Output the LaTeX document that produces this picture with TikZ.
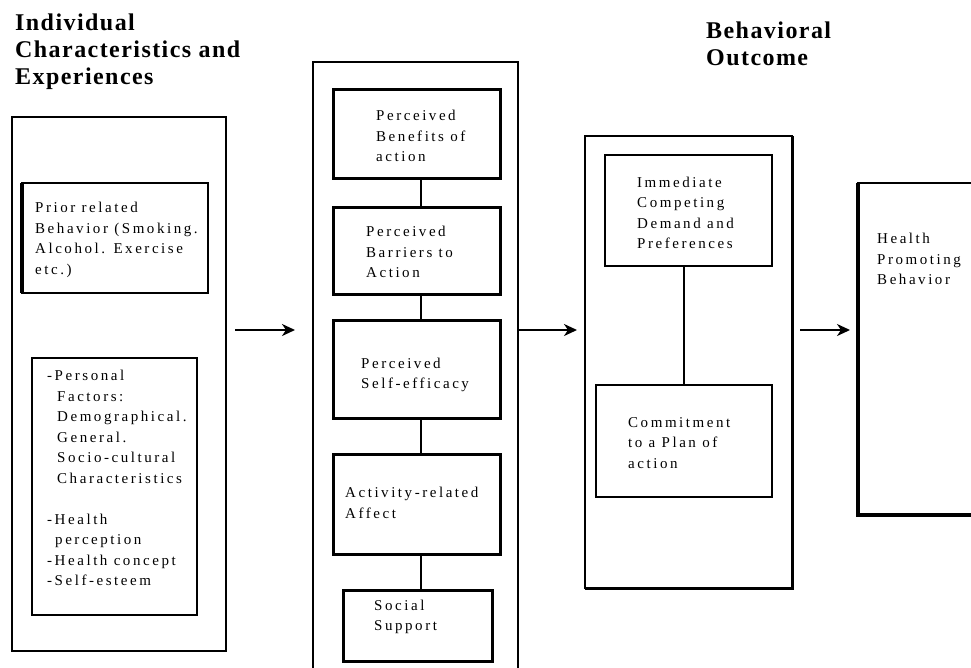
\documentclass[tikz,border=0pt]{standalone}
\usepackage{fontspec}
\setmainfont{Liberation Serif}
\newfontfamily\boxfont[LetterSpace=17]{Liberation Serif}
\newfontfamily\headfont[LetterSpace=6]{Liberation Serif}
\usetikzlibrary{arrows.meta}
\tikzset{
  box/.style={draw, rectangle, anchor=north west, inner sep=0pt, outer sep=0pt},
  outerbox/.style={box, line width=1.8pt},
  midbox/.style={box, line width=3pt},
  leftbox/.style={box, line width=2.4pt},
  rbox/.style={box, line width=2.2pt},
  txt/.style={anchor=west, align=left, inner sep=0pt, font=\boxfont\fontsize{15}{20.5}\selectfont},
  head/.style={anchor=west, align=left, inner sep=0pt, font=\headfont\bfseries\fontsize{24}{27}\selectfont},
  link/.style={line width=2.4pt},
  arr/.style={line width=2.2pt, -{Stealth[length=13pt, width=12pt, inset=4pt]}}
}
\begin{document}
\begin{tikzpicture}[x=1pt, y=-1pt]
\useasboundingbox (0,0) rectangle (971,667);
% titles
\node[head] (t1) at (15,52) {Individual\\Characteristics and\\Experiences};
\node[head] (t2) at (706,44) {Behavioral\\Outcome};
% left column
\node[outerbox, minimum width=214pt, minimum height=534pt] (L) at (12,117) {};
\node[leftbox, minimum width=186pt, minimum height=110pt] (prior) at (22,183) {};
\draw[line width=4pt] (prior.north west) -- (prior.south west);
\node[leftbox, minimum width=165pt, minimum height=257pt] (pers) at (32,358) {};
\node[txt] (priort) at (35,240) {Prior related\\Behavior (Smoking.\\Alcohol. Exercise\\etc.)};
\node[txt] (perst) at (47,478) {-Personal\\\hspace*{10pt}Factors:\\\hspace*{10pt}Demographical.\\\hspace*{10pt}General.\\\hspace*{10pt}Socio-cultural\\\hspace*{10pt}Characteristics\\[20.5pt]-Health\\\hspace*{8pt}perception\\-Health concept\\-Self-esteem};
% middle column
\node[outerbox, minimum width=205pt, minimum height=640pt] (M) at (313,62) {};
\node[midbox, minimum width=167pt, minimum height=89pt] (b1) at (333,89) {};
\node[midbox, minimum width=167pt, minimum height=87pt] (b2) at (333,207) {};
\node[midbox, minimum width=167pt, minimum height=98pt] (b3) at (333,320) {};
\node[midbox, minimum width=167pt, minimum height=100pt] (b4) at (333,454) {};
\node[midbox, minimum width=149pt, minimum height=71pt] (b5) at (343,590) {};
\node[txt] (b1t) at (376,136) {Perceived\\Benefits of\\action};
\node[txt] (b2t) at (366,252) {Perceived\\Barriers to\\Action};
\node[txt] (b3t) at (361,375) {Perceived\\Self-efficacy};
\node[txt] (b4t) at (345,503) {Activity-related\\Affect};
\node[txt] (b5t) at (374,617) {Social\\Support};
\draw[link] ([xshift=4.5pt]b1.south) -- ([xshift=4.5pt]b2.north);
\draw[link] ([xshift=4.5pt]b2.south) -- ([xshift=4.5pt]b3.north);
\draw[link] ([xshift=4.5pt]b3.south) -- ([xshift=4.5pt]b4.north);
\draw[link] ([xshift=4.5pt]b4.south) -- ([xshift=3.5pt]b5.north);
% behavioral outcome column
\node[rbox, minimum width=207pt, minimum height=452pt] (R) at (585,136) {};
\draw[line width=3pt] (R.north east) -- (R.south east) -- (R.south west);
\node[rbox, minimum width=167pt, minimum height=111pt] (imm) at (605,155) {};
\node[rbox, minimum width=176pt, minimum height=112pt] (com) at (596,385) {};
\node[txt] (immt) at (637,213) {Immediate\\Competing\\Demand and\\Preferences};
\node[txt] (comt) at (628,443) {Commitment\\to a Plan of\\action};
\draw[line width=2pt] (imm.south -| com.north) -- (com.north);
% health promoting behavior
\node[box, line width=2.4pt, minimum width=140pt, minimum height=332pt] (H) at (858,183) {};
\draw[line width=3.5pt] (H.north west) -- (H.south west) -- (H.south east);
\node[txt] (Ht) at (877,259) {Health\\Promoting\\Behavior};
% arrows
\coordinate (a1s) at (235,330);
\coordinate (a1e) at (295,330);
\coordinate (a2e) at (577,330);
\coordinate (a3s) at (800,330);
\coordinate (a3e) at (850,330);
\draw[arr] (a1s) -- (a1e);
\draw[arr] (M.east |- a2e) -- (a2e);
\draw[arr] (a3s) -- (a3e);
\end{tikzpicture}
\end{document}
